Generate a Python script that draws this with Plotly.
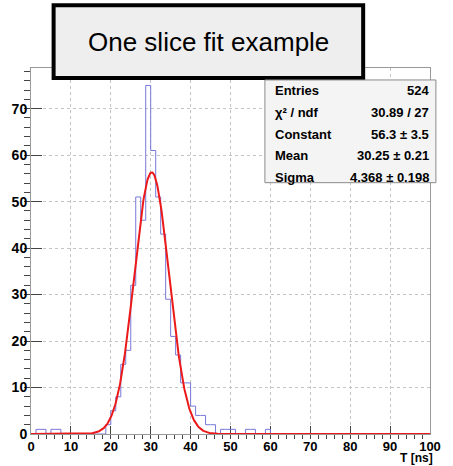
import numpy as np
import plotly.graph_objects as go

# Histogram definition: 80 bins over 0-100 ns
n_bins = 80
x_min, x_max = 0.0, 100.0

# Non-empty bins: lower edge (ns) and counts
bin_low = [1.25, 2.5, 5.0, 6.25, 18.75, 20.0, 21.25, 22.5, 23.75, 25.0, 26.25,
           27.5, 28.75, 30.0, 31.25, 32.5, 33.75, 35.0, 36.25, 37.5, 38.75,
           40.0, 41.25, 42.5, 43.75, 45.0, 47.5, 48.75, 50.0, 53.75, 55.0, 58.75]
counts = [1, 1, 1, 1, 2, 5, 8, 15, 18, 32, 51,
          46, 75, 61, 51, 43, 29, 21, 17, 11, 11,
          6, 4, 4, 2, 2, 1, 1, 1, 1, 1, 1]

# Gaussian fit results
fit_const = 56.3
fit_mean = 30.25
fit_sigma = 4.368

stats_labels = ["Entries", "χ² / ndf", "Constant", "Mean", "Sigma"]
stats_values = ["524", "30.89 / 27", "56.3 ± 3.5", "30.25 ± 0.21", "4.368 ± 0.198"]

title_text = "One slice fit example"
x_title = "T [ns]"

# ---- build full histogram
width = (x_max - x_min) / n_bins
edges = np.linspace(x_min, x_max, n_bins + 1)
content = np.zeros(n_bins)
for lo, c in zip(bin_low, counts):
    content[int(round((lo - x_min) / width))] = c
y_max = 1.05 * content.max()

step_x = edges
step_y = np.append(content, content[-1])

fx = np.linspace(x_min, x_max, 801)
fy = fit_const * np.exp(-0.5 * ((fx - fit_mean) / fit_sigma) ** 2)

fig = go.Figure()
fig.add_trace(go.Scatter(x=step_x, y=step_y, mode="lines", line_shape="hv",
                         line=dict(color="rgb(120,120,218)", width=1),
                         hoverinfo="skip", showlegend=False))
fig.add_trace(go.Scatter(x=fx, y=fy, mode="lines",
                         line=dict(color="rgb(235,25,25)", width=2),
                         hoverinfo="skip", showlegend=False))

# plot area in pixels
W, H = 453, 466
L, R, T, B = 30, 17, 68, 31
pw, ph = W - L - R, H - T - B


def px(xp):
    return (xp - L) / pw


def py(yp):
    return (H - B - yp) / ph


FONT = "Liberation Sans, Arial, sans-serif"
x_tick_font = dict(family=FONT, size=13, color="black", weight="bold")
y_tick_font = dict(family=FONT, size=14, color="black", weight="bold")

fig.update_xaxes(range=[x_min, x_max], tick0=0, dtick=10, ticks="inside",
                 ticklen=8, tickcolor="#444", tickwidth=1,
                 minor=dict(dtick=2, ticklen=4, tickcolor="#444", showgrid=False),
                 showgrid=True, gridcolor="#c4c4c4", griddash="dot", gridwidth=1,
                 showline=True, linecolor="#999", linewidth=1, mirror=True,
                 zeroline=False, tickfont=x_tick_font, layer="below traces")
fig.update_yaxes(range=[0, y_max], tick0=0, dtick=10, ticks="inside",
                 ticklen=11, tickcolor="#444", tickwidth=1,
                 minor=dict(dtick=2, ticklen=6, tickcolor="#444", showgrid=False),
                 showgrid=True, gridcolor="#c4c4c4", griddash="dot", gridwidth=1,
                 showline=True, linecolor="#999", linewidth=1, mirror=True,
                 zeroline=False, tickfont=y_tick_font, layer="below traces",
                 ticklabelstandoff=0)

shapes = [
    # title pave
    dict(type="rect", xref="paper", yref="paper",
         x0=px(53), x1=px(368), y0=py(78), y1=py(5),
         fillcolor="#eeeeee", line=dict(color="black", width=4), layer="above"),
    # stats pave
    dict(type="rect", xref="paper", yref="paper",
         x0=px(268), x1=px(442), y0=py(183), y1=py(80),
         fillcolor="#f4f4f4", line=dict(color="#8a8a8a", width=1), layer="above"),
]

annotations = [
    dict(text=title_text, x=px(210.5), y=py(42), xref="paper", yref="paper",
         xanchor="center", yanchor="middle", showarrow=False,
         font=dict(family=FONT, size=26, color="black")),
    dict(text=x_title, x=px(440), y=py(467), xref="paper", yref="paper",
         xanchor="right", yanchor="bottom", showarrow=False, borderpad=0,
         font=dict(family=FONT, size=12, color="black", weight="bold")),
]

row_y = [91, 113, 134.5, 156, 177.5]
for lab, val, yy in zip(stats_labels, stats_values, row_y):
    annotations.append(dict(text=lab, x=px(276), y=py(yy), xref="paper", yref="paper",
                            xanchor="left", yanchor="middle", showarrow=False,
                            font=dict(family=FONT, size=13, color="black", weight="bold")))
    annotations.append(dict(text=val, x=px(437), y=py(yy), xref="paper", yref="paper",
                            xanchor="right", yanchor="middle", showarrow=False,
                            font=dict(family=FONT, size=13, color="black", weight="bold")))

fig.update_layout(width=W, height=H, margin=dict(l=L, r=R, t=T, b=B),
                  paper_bgcolor="white", plot_bgcolor="white",
                  shapes=shapes, annotations=annotations, showlegend=False)

fig.write_html("out.html")
